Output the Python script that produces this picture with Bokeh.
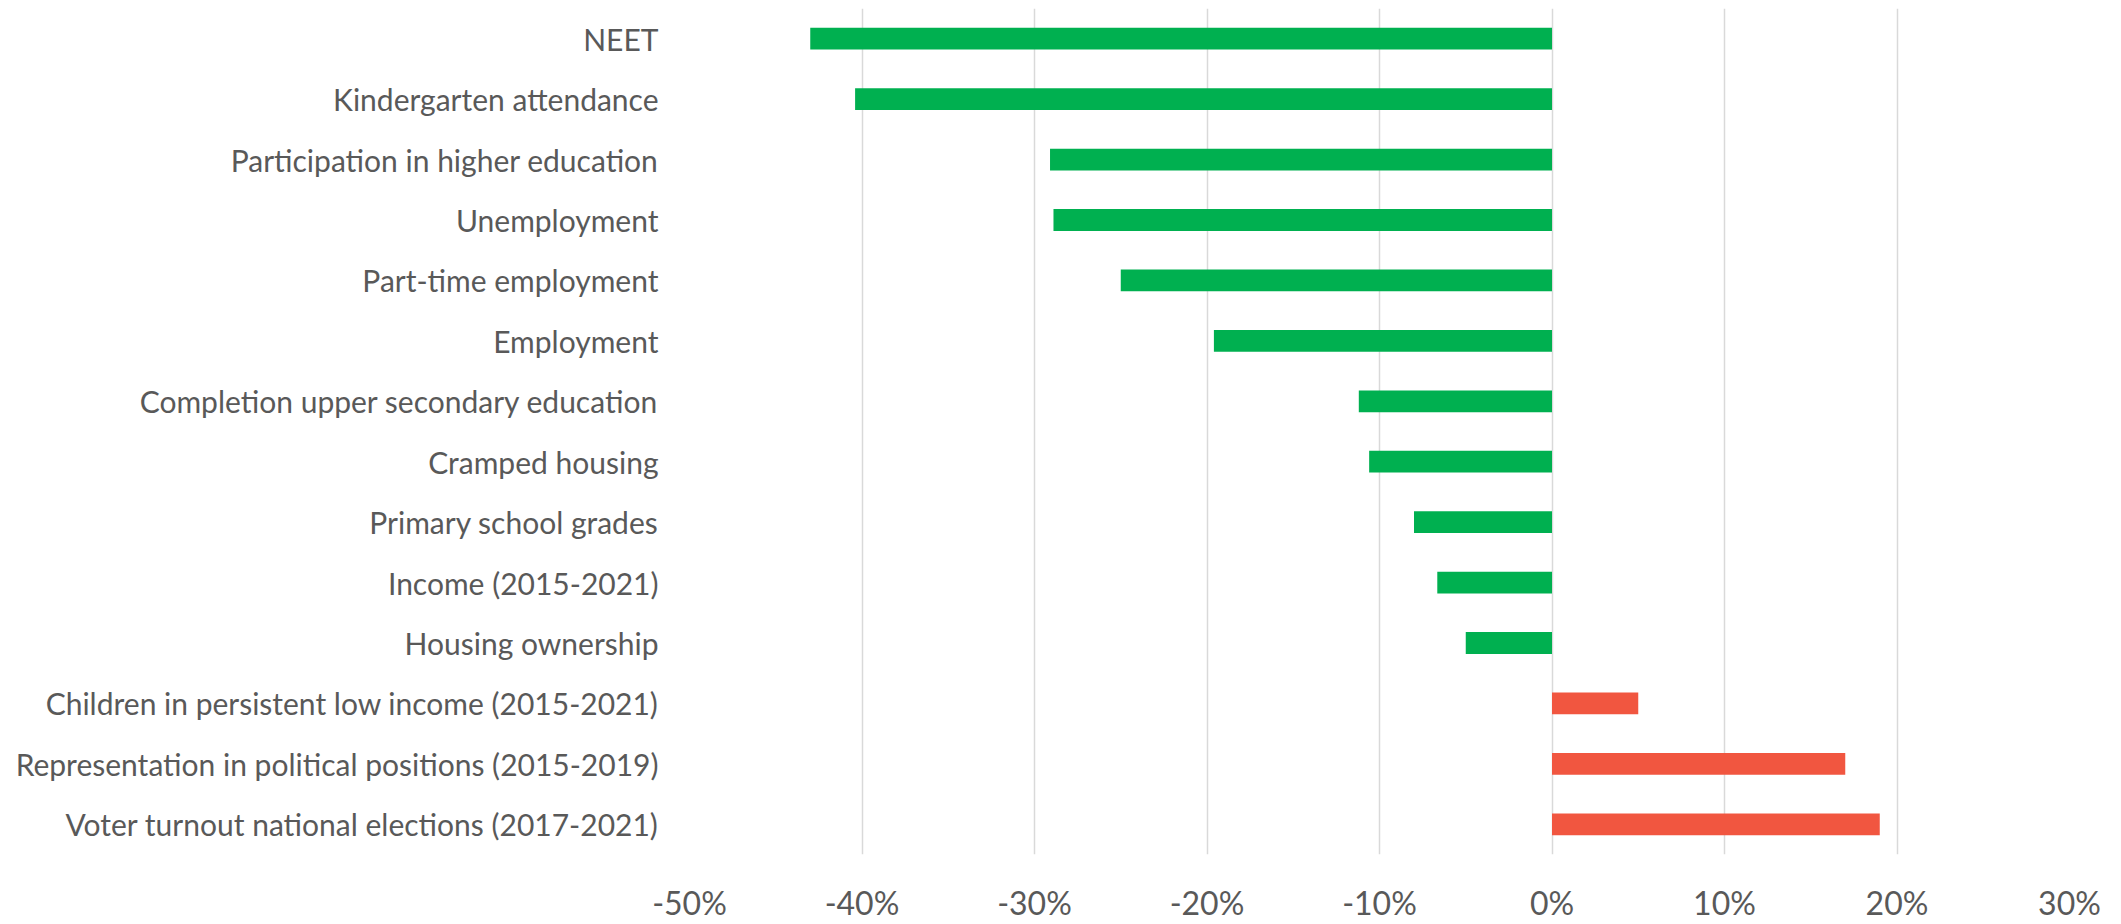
from bokeh.plotting import figure
from bokeh.models import ColumnDataSource, FactorRange, FixedTicker, PrintfTickFormatter, Range1d
from bokeh.embed import file_html
from bokeh.resources import INLINE

categories = [
    "NEET",
    "Kindergarten attendance",
    "Participation in higher education",
    "Unemployment",
    "Part-time employment",
    "Employment",
    "Completion upper secondary education",
    "Cramped housing",
    "Primary school grades",
    "Income (2015-2021)",
    "Housing ownership",
    "Children in persistent low income (2015-2021)",
    "Representation in political positions (2015-2019)",
    "Voter turnout national elections (2017-2021)",
]
values = [-43.0, -40.4, -29.1, -28.9, -25.0, -19.6, -11.2, -10.6, -8.0, -6.65, -5.0, 5.0, 17.0, 19.0]
x_ticks = [-50, -40, -30, -20, -10, 0, 10, 20, 30]

GREEN = "#00B050"
RED = "#F15640"
colors = [GREEN if v < 0 else RED for v in values]

source = ColumnDataSource(dict(cat=categories, val=values, color=colors))

FONT = "Lato"
TEXT = "#595959"

p = figure(
    width=2121, height=924,
    y_range=FactorRange(factors=list(reversed(categories))),
    x_range=Range1d(-50, 30),
    output_backend="svg", toolbar_location=None,
    min_border_left=689, min_border_right=52, min_border_top=8, min_border_bottom=65,
)
p.hbar(y="cat", left=0, right="val", height=0.36, color="color", line_color=None, source=source)

p.outline_line_color = None
p.background_fill_color = "white"
p.border_fill_color = "white"

p.xaxis.ticker = FixedTicker(ticks=x_ticks)
p.xaxis.formatter = PrintfTickFormatter(format="%d%%")
p.xaxis.axis_line_color = None
p.xaxis.major_tick_line_color = None
p.xaxis.minor_tick_line_color = None
p.xaxis.major_tick_out = 0
p.xaxis.major_tick_in = 0
p.xaxis.major_label_standoff = 28
p.xaxis.major_label_text_font = FONT
p.xaxis.major_label_text_font_size = "32px"
p.xaxis.major_label_text_color = TEXT

p.yaxis.axis_line_color = None
p.yaxis.major_tick_line_color = None
p.yaxis.minor_tick_line_color = None
p.yaxis.major_tick_out = 0
p.yaxis.major_tick_in = 0
p.yaxis.major_label_standoff = 31
p.yaxis.major_label_text_font = FONT
p.yaxis.major_label_text_font_size = "30px"
p.yaxis.major_label_text_color = TEXT

p.xgrid.grid_line_color = "#D9D9D9"
p.xgrid.grid_line_width = 1.5
p.ygrid.grid_line_color = None

open("out.html", "w").write(file_html(p, INLINE))
